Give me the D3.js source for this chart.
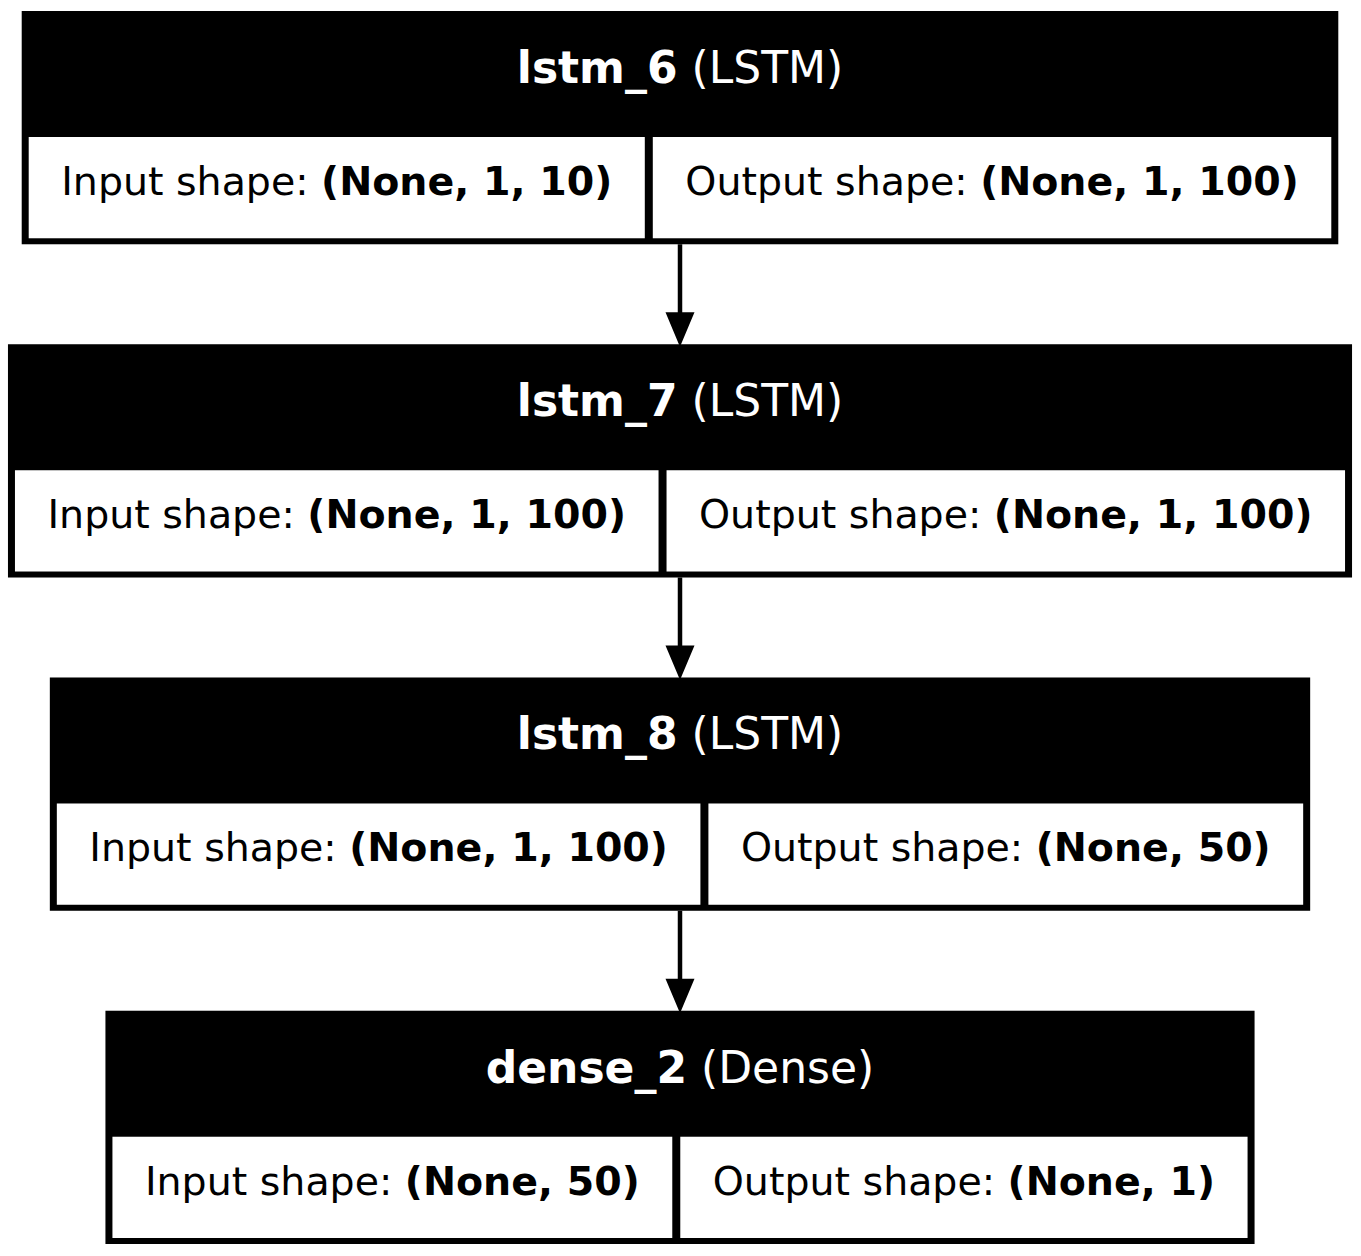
<!DOCTYPE html>
<html><head><meta charset="utf-8">
<script src="https://cdn.jsdelivr.net/npm/d3@7"></script>
<style>
html,body{margin:0;padding:0;background:#fff;}
svg{display:block;}
text{font-family:"DejaVu Sans",sans-serif;white-space:pre;}
</style>
</head><body><svg id="chart"></svg>
<script>
const layerNames = ["lstm_6", "lstm_7", "lstm_8", "dense_2"];
const layerTypes = ["LSTM", "LSTM", "LSTM", "Dense"];
const inputShapes = ["(None, 1, 10)", "(None, 1, 100)", "(None, 1, 100)", "(None, 50)"];
const outputShapes = ["(None, 1, 100)", "(None, 1, 100)", "(None, 50)", "(None, 1)"];

const W = 1361, H = 1256;
const svg = d3.select("#chart").attr("width", W).attr("height", H);
svg.append("rect").attr("width", W).attr("height", H).attr("fill", "#fff");

const y = d3.scaleBand().domain(layerNames).range([11, 1244]).paddingInner(0.3).paddingOuter(0);
const cx = 680;

const HEADER_H = 126, CELL_PAD = 32.5, SIDE = 7, DIV = 8, BOTTOM = 6;
const HEAD_FS = 44, BODY_FS = 39.5;

function label(g, parts, fs, color) {
  const t = g.append("text").attr("font-size", fs).attr("fill", color).attr("text-anchor", "middle");
  parts.forEach(p => t.append("tspan").attr("font-weight", p.bold ? "bold" : "normal").text(p.text));
  return t;
}

const layers = layerNames.map((n, i) => ({
  name: n, type: layerTypes[i], inp: inputShapes[i], out: outputShapes[i]
}));

const nodes = svg.selectAll("g.node").data(layers).join("g").attr("class", "node");

nodes.each(function(d) {
  const g = d3.select(this);
  const top = y(d.name), bh = y.bandwidth();
  const outer = g.append("rect").attr("fill", "#000");
  const lrect = g.append("rect").attr("fill", "#fff");
  const rrect = g.append("rect").attr("fill", "#fff");
  const head = label(g, [{text: d.name, bold: true}, {text: " (" + d.type + ")", bold: false}], HEAD_FS, "#fff");
  const lt = label(g, [{text: "Input shape: ", bold: false}, {text: d.inp, bold: true}], BODY_FS, "#000");
  const rt = label(g, [{text: "Output shape: ", bold: false}, {text: d.out, bold: true}], BODY_FS, "#000");
  const lw = lt.node().getComputedTextLength() + 2 * CELL_PAD;
  const rw = rt.node().getComputedTextLength() + 2 * CELL_PAD;
  const hw = head.node().getComputedTextLength() + 2 * CELL_PAD;
  const total = Math.max(2 * SIDE + DIV + lw + rw, hw);
  const x0 = cx - total / 2;
  const cellTop = top + HEADER_H, cellH = bh - HEADER_H - BOTTOM;
  outer.attr("x", x0).attr("y", top).attr("width", total).attr("height", bh);
  lrect.attr("x", x0 + SIDE).attr("y", cellTop).attr("width", lw).attr("height", cellH);
  rrect.attr("x", x0 + SIDE + lw + DIV).attr("y", cellTop).attr("width", rw).attr("height", cellH);
  head.attr("x", cx).attr("y", top + 72);
  lt.attr("x", x0 + SIDE + lw / 2).attr("y", cellTop + 58);
  rt.attr("x", x0 + SIDE + lw + DIV + rw / 2).attr("y", cellTop + 58);
});

const HEAD_LEN = 31, HEAD_W = 26;
const edges = d3.pairs(layerNames);
const eg = svg.selectAll("g.edge").data(edges).join("g").attr("class", "edge");
eg.append("line")
  .attr("x1", cx).attr("x2", cx)
  .attr("y1", d => y(d[0]) + y.bandwidth())
  .attr("y2", d => y(d[1]) - HEAD_LEN + 2)
  .attr("stroke", "#000").attr("stroke-width", 4.5);
eg.append("path")
  .attr("d", d => {
    const tip = y(d[1]);
    return `M${cx},${tip} L${cx - HEAD_W / 2},${tip - HEAD_LEN} L${cx + HEAD_W / 2},${tip - HEAD_LEN} Z`;
  })
  .attr("fill", "#000").attr("stroke", "#000").attr("stroke-width", 2);
</script>
</body></html>
